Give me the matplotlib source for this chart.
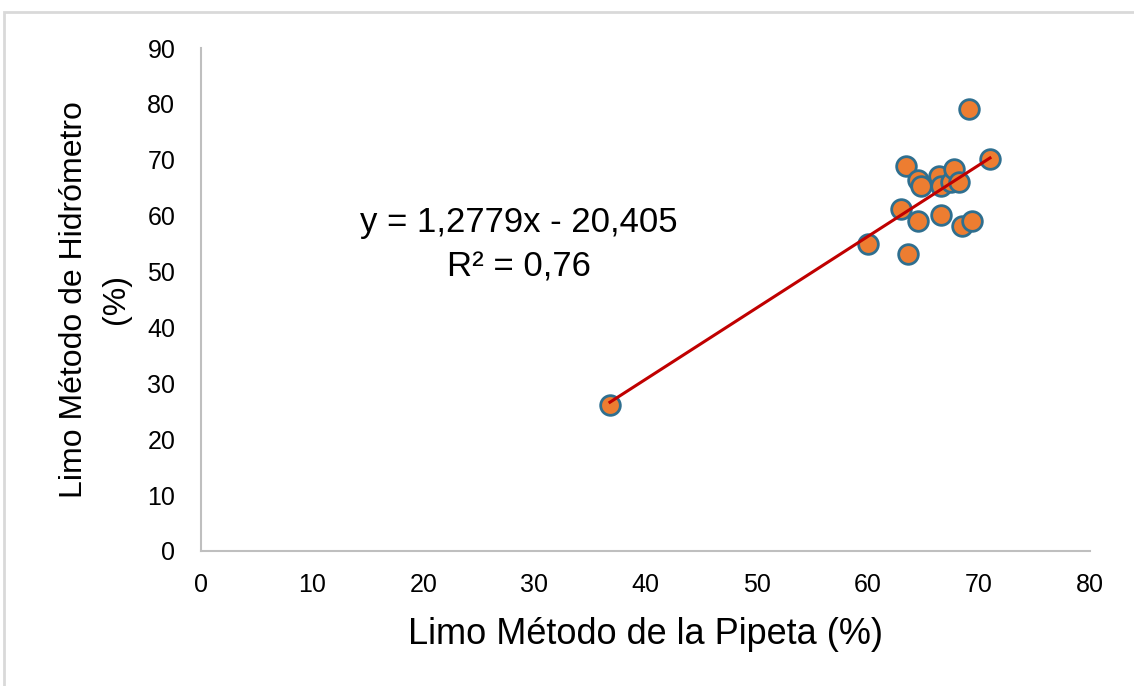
import matplotlib.pyplot as plt
import numpy as np
from matplotlib.patches import Rectangle

# Limo (%) por pipeta vs hidrómetro
pipeta = [36.8, 60.0, 63.0, 63.4, 63.6, 64.5, 64.5, 64.8, 66.4, 66.6, 66.6,
          67.5, 67.8, 68.2, 68.5, 69.15, 69.4, 71.0]
hidrometro = [26.1, 54.9, 61.2, 68.9, 53.1, 66.3, 59.0, 65.3, 67.1, 65.3, 60.1,
              66.0, 68.3, 66.1, 58.2, 79.0, 59.0, 70.1]

pendiente = 1.2779
intercepto = -20.405
r2 = 0.76

plt.rcParams['font.family'] = ['Liberation Sans', 'DejaVu Sans']

fig = plt.figure(figsize=(11.34, 6.86), dpi=100)
ax = fig.add_axes([201 / 1134, 1 - 551 / 686, (1090 - 201) / 1134, (551 - 48) / 686])

# marco gris de la imagen
fig.patches.append(Rectangle((4 / 1134, -0.1), 1.2, 1 - 12 / 686 + 0.1,
                             transform=fig.transFigure, fill=False,
                             edgecolor='#d9d9d9', linewidth=2))

xs = np.array([min(pipeta), max(pipeta)])
ax.plot(xs, pendiente * xs + intercepto, color='#c00000', linewidth=2.2, zorder=3)
ax.scatter(pipeta, hidrometro, s=200, facecolor='#ed7d31', edgecolor='#2f6f8f',
           linewidth=2, zorder=2)

ax.text(28.6, 54.8, f"y = {pendiente:.4f}x - {-intercepto:.3f}\nR² = {r2:.2f}".replace('.', ','),
        ha='center', va='center', fontsize=25, linespacing=1.45)

ax.set_xlim(0, 80)
ax.set_ylim(0, 90)
ax.set_xticks(range(0, 81, 10))
ax.set_yticks(range(0, 91, 10))
ax.tick_params(axis='x', length=0, labelsize=18, pad=16)
ax.tick_params(axis='y', length=0, labelsize=18, pad=18.5)
for s in ['top', 'right']:
    ax.spines[s].set_visible(False)
for s in ['left', 'bottom']:
    ax.spines[s].set_color('#bfbfbf')
    ax.spines[s].set_linewidth(1.5)

ax.set_xlabel("Limo Método de la Pipeta (%)", fontsize=26, labelpad=14)
ax.set_ylabel("Limo Método de Hidrómetro\n(%)", fontsize=23, labelpad=12, linespacing=1.5)

fig.savefig("out.png", dpi=100)
